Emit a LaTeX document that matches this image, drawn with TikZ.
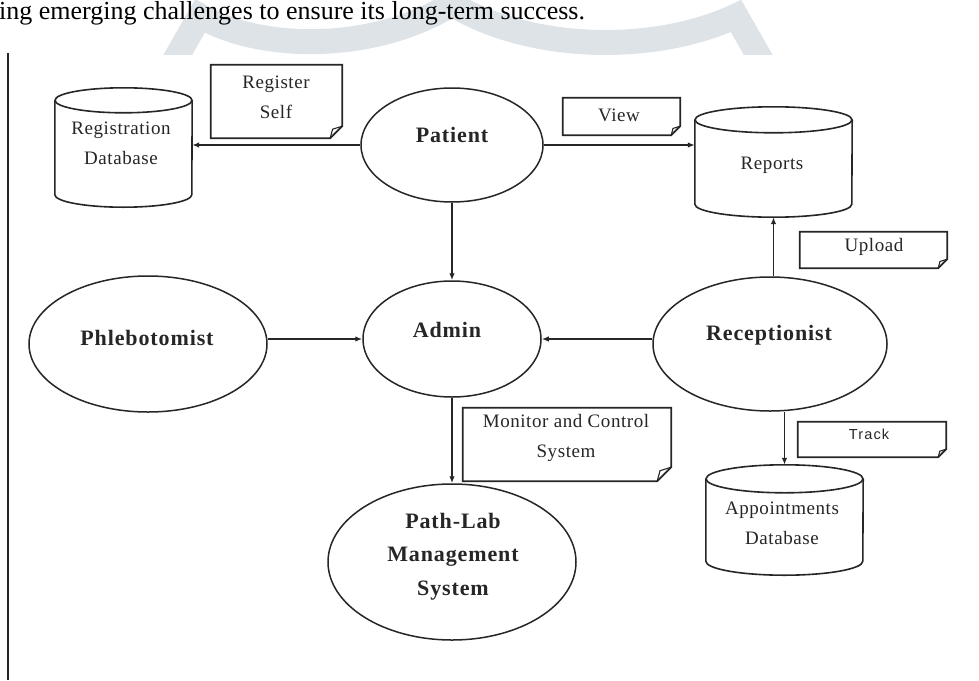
\documentclass[tikz,border=0pt]{standalone}
\usepackage{fontspec}
\setmainfont{Liberation Serif}
\newfontfamily\actorfont[LetterSpace=4]{Liberation Serif}
\newfontfamily\diafont[LetterSpace=3]{Liberation Serif}
\newfontfamily\trackfont[LetterSpace=8]{Liberation Sans}
\usetikzlibrary{arrows.meta,shapes.geometric}
\definecolor{ink}{RGB}{38,38,38}
\definecolor{wmark}{RGB}{222,227,232}
\tikzset{
  actor/.style={ellipse, draw=ink, line width=1.5pt, inner sep=0pt},
  actorlbl/.style={font=\actorfont\bfseries\fontsize{22}{33.5}\selectfont, text=ink, align=center, inner sep=0pt},
  dialbl/.style={font=\diafont\fontsize{19}{30}\selectfont, text=ink, align=center, inner sep=0pt},
  tracklbl/.style={font=\trackfont\fontsize{14.5}{17}\selectfont, text=ink, inner sep=0pt},
  frame/.style={draw=none, rectangle, inner sep=0pt},
  noteline/.style={draw=ink, line width=1.8pt, line join=miter},
  dbline/.style={draw=ink, line width=1.6pt},
  flow/.style={draw=ink, line width=1.4pt, -{Latex[length=7pt,width=5.5pt]}},
}
\newcommand{\drawdb}[3]{%
  \draw[dbline] ([yshift=-#3pt]#1.north west) -- ([yshift=#3pt]#1.south west)
     arc[start angle=180, end angle=360, x radius=#2pt, y radius=#3pt]
     -- ([yshift=-#3pt]#1.north east);
  \draw[dbline] ([yshift=-#3pt]#1.north) ellipse[x radius=#2pt, y radius=#3pt];
}
\newcommand{\drawnote}[2]{%
  \draw[noteline] (#1.north west) -- (#1.north east) -- ([yshift=#2pt]#1.south east)
     -- ([xshift=-#2pt]#1.south east) -- (#1.south west) -- cycle;
  \draw[noteline, line width=1.1pt] ([xshift=-#2pt]#1.south east)
     -- ([xshift=-0.8*#2pt, yshift=0.75*#2pt]#1.south east) -- ([yshift=#2pt]#1.south east);
}
\begin{document}
\begin{tikzpicture}[x=1pt, y=-1pt]
\useasboundingbox (0,0) rectangle (979,680);
\fill[white] (0,0) rectangle (979,680);
% faint watermark
\begin{scope}
  \clip (0,0) rectangle (979,54);
  \draw[wmark, line width=25pt, line join=miter]
    (168,72) -- (200,16)
    .. controls (262,52) and (375,52) .. (452,4)
    .. controls (530,52) and (655,54) .. (736,16) -- (768,72);
\end{scope}
% running text above
\node[anchor=base west, inner sep=0pt, font=\fontsize{26}{30}\selectfont, text=black] (toptext) at (-1,19.5)
  {ing emerging challenges to ensure its long-term success.};
% left margin rule
\coordinate (rulet) at (8,53);
\coordinate (ruleb) at (8,680);
\draw[ink, line width=1.5pt] (rulet) -- (ruleb);

% actors
\node[actor, minimum width=182pt, minimum height=114pt] (patient) at (452,145) {};
\node[actor, minimum width=178pt, minimum height=116pt] (admin) at (452,339) {};
\node[actor, minimum width=238pt, minimum height=136pt] (phleb) at (148,344) {};
\node[actor, minimum width=234pt, minimum height=134pt] (recep) at (770,344) {};
\node[actor, minimum width=248pt, minimum height=156pt] (pathlab) at (452,562) {};

\node[actorlbl] (patientlbl) at (452,135) {Patient};
\node[actorlbl] (adminlbl) at (447,330) {Admin};
\node[actorlbl] (phleblbl) at (147,338) {Phlebotomist};
\node[actorlbl] (receplbl) at (769,335) {Receptionist};
\node[actorlbl] (pathlbl) at (453,556.5) {Path-Lab\\Management\\System};

% data stores
\node[frame, minimum width=137pt, minimum height=119pt] (regdb) at (123.5,147.5) {};
\node[frame, minimum width=157pt, minimum height=110pt] (reports) at (773.5,162) {};
\node[frame, minimum width=157pt, minimum height=110pt] (appdb) at (784.5,520) {};
\drawdb{regdb}{68.5}{12.5}
\drawdb{reports}{78.5}{13}
\drawdb{appdb}{78.5}{14}
\node[dialbl] (regdblbl) at (121,143) {Registration\\Database};
\node[dialbl] (reportslbl) at (772,165) {Reports};
\node[dialbl] (appdblbl) at (782,523.5) {Appointments\\Database};

% notes
\node[frame, minimum width=131pt, minimum height=73pt] (regnote) at (276.5,101.5) {};
\node[frame, minimum width=117pt, minimum height=37pt] (viewnote) at (621.5,116.5) {};
\node[frame, minimum width=147pt, minimum height=36pt] (uploadnote) at (873.5,250) {};
\node[frame, minimum width=208pt, minimum height=73pt] (monnote) at (567,444.5) {};
\node[frame, minimum width=148pt, minimum height=35pt] (tracknote) at (872,439.5) {};
\drawnote{regnote}{12}
\drawnote{viewnote}{9}
\drawnote{uploadnote}{9}
\drawnote{monnote}{14}
\drawnote{tracknote}{8}
\node[dialbl] (regnotelbl) at (276,97) {Register\\Self};
\node[dialbl] (viewlbl) at (619,115) {View};
\node[dialbl] (uploadlbl) at (874,247) {Upload};
\node[dialbl] (monlbl) at (566,438) {Monitor and Control\\System};
\node[tracklbl] (tracklbl) at (869,434) {Track};

% flows
\draw[flow] (patient.west) -- (patient.west -| regdb.east);
\draw[flow] (patient.east) -- (patient.east -| reports.west);
\draw[flow] (patient.south) -- (admin.north);
\draw[flow] (admin.west -| phleb.east) -- (admin.west);
\draw[flow] (admin.east -| recep.west) -- (admin.east);
\draw[flow] (reports.south |- recep.north) -- (reports.south);
\draw[flow] (admin.south) -- (pathlab.north);
\draw[flow] (appdb.north |- recep.south) -- (appdb.north);
\end{tikzpicture}
\end{document}
